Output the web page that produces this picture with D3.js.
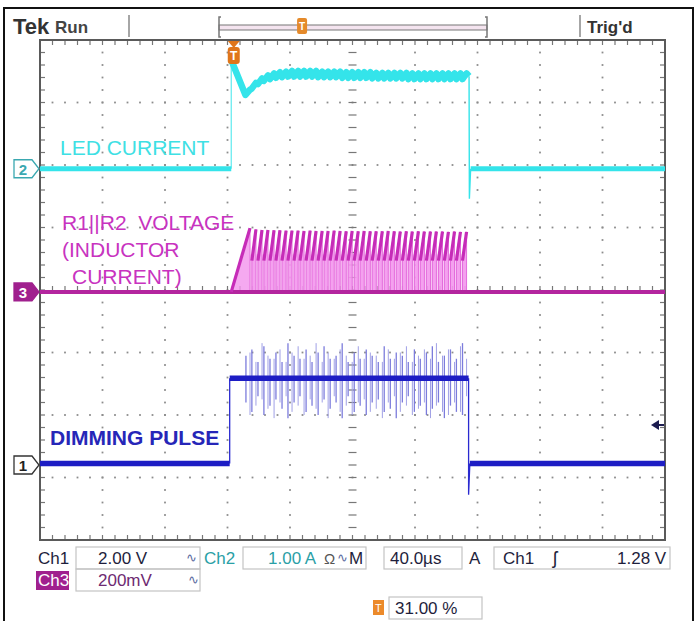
<!DOCTYPE html>
<html>
<head>
<meta charset="utf-8">
<script src="https://cdn.jsdelivr.net/npm/d3@7"></script>
<style>
  body { margin: 0; background: #fff; }
  svg { display: block; font-family: "Liberation Sans", Arial, sans-serif; }
  text { white-space: pre; }
</style>
</head>
<body>
<div id="scope"></div>
<script>
// time in µs relative to trigger (40 µs/div, trigger at 31 %), vertical in divisions
const timeSpan = [-124, 276];
const divSpan = [-4, 4];

// channel ground position (div) and units per division: Ch1 V, Ch2 A, Ch3 mV
const groundDiv = [-2.8, 1.94, -0.03];
const unitsPerDiv = [2, 1, 200];

// switching cycles: instants (µs) where the inductor current peaks
const switchPeaks = [10.4, 14.2, 18.1, 21.9, 25.8, 29.6, 33.5, 37.3, 41.2, 45.0,
  48.9, 52.7, 56.6, 60.4, 64.3, 68.1, 72.0, 75.8, 79.7, 83.5, 87.4, 91.2, 95.1,
  98.9, 102.8, 106.6, 110.5, 114.3, 118.2, 122.0, 125.9, 129.7, 133.6, 137.4,
  141.3, 145.1, 149.0];
const onTime = 2.6;

// Ch3: R1||R2 voltage (mV)
const ch3PeakMv = [204, 200, 198, 198, 197, 197, 196, 196, 196, 195, 196, 195,
  195, 195, 196, 195, 194, 195, 194, 195, 194, 194, 194, 195, 194, 193, 194, 193,
  194, 193, 193, 193, 193, 192, 193, 192, 192];
const ch3ValleyMv = 100;
const ch3RampStart = -1.6;

// Ch2: LED current (A)
const ledMeanA = [1.22, 1.33, 1.40, 1.45, 1.48, 1.50, 1.51, 1.52, 1.52, 1.52,
  1.52, 1.52, 1.51, 1.51, 1.51, 1.51, 1.50, 1.50, 1.50, 1.50, 1.50, 1.49, 1.49,
  1.49, 1.49, 1.49, 1.49, 1.48, 1.48, 1.48, 1.48, 1.48, 1.48, 1.48, 1.48, 1.48, 1.48];
const ledRippleA = 0.045;
const ledLeadT = [-1.6, 7.5];
const ledLeadA = [1.74, 1.18];
const ledTailT = [150.6, 150.8, 151.6];
const ledTailA = [1.48, -0.48, 0];

// Ch1: dimming pulse (V)
const dimEdgesT = [-2.6, 150.3];
const dimLevelsV = [0.05, 2.78];
const dimUndershootV = -0.95;
const dimSpikeTopV = [3.5, 3.7, 3.3, 3.8, 3.4, 3.6, 3.3, 3.9, 3.5, 3.4, 3.7, 3.3,
  3.6, 3.8, 3.4, 3.5, 3.9, 3.3, 3.6, 3.4, 3.7, 3.5, 3.3, 3.8, 3.4, 3.6, 3.5, 3.3,
  3.7, 3.4, 3.6, 3.8, 3.3, 3.5, 3.7, 3.4, 3.9];
const dimSpikeBotV = [2.0, 1.7, 2.2, 1.6, 1.9, 2.1, 1.8, 1.5, 2.0, 2.2, 1.7, 1.9,
  1.6, 2.1, 1.8, 2.0, 1.5, 2.2, 1.7, 1.9, 1.6, 2.0, 2.1, 1.7, 1.8, 1.5, 2.0, 2.2,
  1.7, 1.9, 1.6, 1.8, 2.0, 1.5, 1.9, 1.7, 1.6];
const trigLevelV = 1.28;
const trigPercent = 31;

const width = 695;
const height = 621;
const plot = { left: 40, right: 665, top: 40, bottom: 540 };

const svg = d3
  .select("#scope")
  .append("svg")
  .attr("width", width)
  .attr("height", height);

const x = d3.scaleLinear().domain(timeSpan).range([plot.left, plot.right]);
const y = d3.scaleLinear().domain(divSpan).range([plot.bottom, plot.top]);
const onCh = (ch) => (v) => y(groundDiv[ch] + v / unitsPerDiv[ch]);
const y1 = onCh(0);
const y2 = onCh(1);
const y3 = onCh(2);

// outer frame
svg.append("rect")
  .attr("x", 4).attr("y", 8).attr("width", 689).attr("height", 620)
  .attr("fill", "none").attr("stroke", "#111").attr("stroke-width", 2);

// graticule
const majorT = d3.range(0, 11).map((k) => timeSpan[0] + k * 40);
const majorD = d3.range(-4, 5);
const minorT = d3.range(1, 50).map((i) => timeSpan[0] + i * 8);
const minorD = d3.range(1, 40).map((i) => -4 + i * 0.2);
const centerT = timeSpan[0] + 200;

const grid = svg.append("g").attr("fill", "#8c8c8c");
majorT.slice(1, -1).filter((t) => t !== centerT).forEach((t) => {
  grid.selectAll(null).data(minorD).join("rect")
    .attr("x", x(t) - 0.9).attr("y", (d) => y(d) - 0.9)
    .attr("width", 1.8).attr("height", 1.8);
});
majorD.slice(1, -1).filter((d) => d !== 0).forEach((dv) => {
  grid.selectAll(null).data(minorT).join("rect")
    .attr("x", (t) => x(t) - 0.9).attr("y", y(dv) - 0.9)
    .attr("width", 1.8).attr("height", 1.8);
});

const ticks = svg.append("g").attr("stroke", "#777").attr("stroke-width", 1.2);
ticks.selectAll(null).data(minorD).join("line")
  .attr("x1", x(centerT) - 4).attr("x2", x(centerT) + 4)
  .attr("y1", (d) => y(d)).attr("y2", (d) => y(d));
ticks.selectAll(null).data(minorT).join("line")
  .attr("x1", (t) => x(t)).attr("x2", (t) => x(t))
  .attr("y1", y(0) - 4).attr("y2", y(0) + 4);
// border ticks
ticks.selectAll(null).data(minorT).join("line")
  .attr("x1", (t) => x(t)).attr("x2", (t) => x(t))
  .attr("y1", plot.top).attr("y2", plot.top + 5);
ticks.selectAll(null).data(minorT).join("line")
  .attr("x1", (t) => x(t)).attr("x2", (t) => x(t))
  .attr("y1", plot.bottom).attr("y2", plot.bottom - 5);
ticks.selectAll(null).data(minorD).join("line")
  .attr("x1", plot.left).attr("x2", plot.left + 5)
  .attr("y1", (d) => y(d)).attr("y2", (d) => y(d));
ticks.selectAll(null).data(minorD).join("line")
  .attr("x1", plot.right).attr("x2", plot.right - 5)
  .attr("y1", (d) => y(d)).attr("y2", (d) => y(d));

svg.append("rect")
  .attr("x", plot.left).attr("y", plot.top)
  .attr("width", plot.right - plot.left).attr("height", plot.bottom - plot.top)
  .attr("fill", "none").attr("stroke", "#5a5a5a").attr("stroke-width", 2);

const line = (fy) => d3.line().x((d) => x(d.t)).y((d) => fy(d.v));

// ---- Ch3: R1||R2 voltage (inductor current)
const teeth = switchPeaks.map((t, i) => ({
  start: i === 0 ? ch3RampStart : t - onTime,
  from: i === 0 ? ch3RampStart : switchPeaks[i - 1],
  low: i === 0 ? 0 : ch3ValleyMv,
  peak: t,
  high: ch3PeakMv[i]
}));
const ch3 = svg.append("g");
// persistence haze between cycles
ch3.selectAll("path.haze").data(teeth.slice(1)).join("path")
  .attr("class", "haze")
  .attr("fill", "#f7b8f2").attr("fill-opacity", 0.6)
  .attr("d", (d) => line(y3)([
    { t: d.from, v: 0 }, { t: d.from, v: d.low * 1.2 },
    { t: d.peak, v: d.low * 1.2 }, { t: d.peak, v: 0 }]));
ch3.selectAll("path.fill").data(teeth).join("path")
  .attr("class", "fill")
  .attr("fill", "#f394ec").attr("fill-opacity", 0.8)
  .attr("stroke", "#e46cdc").attr("stroke-width", 1)
  .attr("d", (d) => line(y3)([
    { t: d.start, v: 0 }, { t: d.start, v: d.low },
    { t: d.peak, v: d.high }, { t: d.peak, v: 0 }]));
ch3.append("path")
  .attr("fill", "none").attr("stroke", "#b4259f").attr("stroke-width", 4)
  .attr("d", line(y3)([{ t: timeSpan[0], v: 0 }, { t: timeSpan[1], v: 0 }]));
ch3.selectAll("path.ramp").data(teeth).join("path")
  .attr("class", "ramp")
  .attr("fill", "none").attr("stroke", "#c62cb8").attr("stroke-width", 3.2)
  .attr("d", (d) => line(y3)([{ t: d.start, v: d.low }, { t: d.peak, v: d.high }]));

// ---- Ch2: LED current
const ledHigh = ledLeadT.map((t, i) => ({ t, v: ledLeadA[i] }));
switchPeaks.forEach((t, i) => {
  if (i > 0) ledHigh.push({ t: t - onTime, v: ledMeanA[i] - ledRippleA });
  ledHigh.push({ t, v: ledMeanA[i] + ledRippleA });
});
ledHigh.push({ t: ledTailT[0], v: ledTailA[0] });
const ch2 = svg.append("g").attr("fill", "none").attr("stroke", "#34e4ea");
ch2.append("path").attr("stroke-width", 1.2).attr("stroke-opacity", 0.8)
  .attr("d", line(y2)([{ t: ledLeadT[0], v: 0 }, { t: ledLeadT[0], v: ledLeadA[0] }]));
ch2.append("path").attr("stroke-width", 1.4)
  .attr("d", line(y2)(ledTailT.map((t, i) => ({ t, v: ledTailA[i] }))));
ch2.append("path").attr("stroke-width", 5)
  .attr("d", line(y2)([{ t: timeSpan[0], v: 0 }, { t: ledLeadT[0], v: 0 }]));
ch2.append("path").attr("stroke-width", 6.5).attr("stroke-linejoin", "round")
  .attr("d", line(y2)(ledHigh));
ch2.append("path").attr("stroke-width", 5)
  .attr("d", line(y2)([{ t: ledTailT[2], v: 0 }, { t: timeSpan[1], v: 0 }]));

// ---- Ch1: dimming pulse
const ch1 = svg.append("g").attr("fill", "none");
ch1.selectAll("line.spike").data(switchPeaks).join("line")
  .attr("class", "spike")
  .attr("stroke", "#7c7cdc").attr("stroke-width", 1.3)
  .attr("x1", (t) => x(t - onTime)).attr("x2", (t) => x(t - onTime))
  .attr("y1", (t, i) => y1(dimSpikeTopV[i])).attr("y2", (t, i) => y1(dimSpikeBotV[i]));
ch1.selectAll("line.spike2").data(switchPeaks).join("line")
  .attr("class", "spike2")
  .attr("stroke", "#a0a0e6").attr("stroke-width", 1)
  .attr("x1", (t) => x(t)).attr("x2", (t) => x(t))
  .attr("y1", (t, i) => y1(dimSpikeTopV[(i + 5) % dimSpikeTopV.length]))
  .attr("y2", (t, i) => y1(dimSpikeBotV[(i + 3) % dimSpikeBotV.length]));
ch1.append("path").attr("stroke", "#2a2ad0").attr("stroke-width", 1.3)
  .attr("d", line(y1)([{ t: dimEdgesT[0], v: dimLevelsV[0] }, { t: dimEdgesT[0], v: dimLevelsV[1] }]));
ch1.append("path").attr("stroke", "#2a2ad0").attr("stroke-width", 1.3)
  .attr("d", line(y1)([{ t: dimEdgesT[1], v: dimLevelsV[1] }, { t: dimEdgesT[1], v: dimUndershootV },
    { t: dimEdgesT[1] + 0.8, v: dimLevelsV[0] }]));
ch1.selectAll("path.level").data([
  [timeSpan[0], dimEdgesT[0], dimLevelsV[0]],
  [dimEdgesT[0], dimEdgesT[1], dimLevelsV[1]],
  [dimEdgesT[1] + 0.8, timeSpan[1], dimLevelsV[0]]]).join("path")
  .attr("class", "level")
  .attr("stroke", "#1d1dc4").attr("stroke-width", 5.5)
  .attr("d", (d) => line(y1)([{ t: d[0], v: d[2] }, { t: d[1], v: d[2] }]));

// ---- trace labels
svg.append("text").attr("x", 60).attr("y", 155).attr("font-size", 21)
  .attr("fill", "#3ee0e4").text("LED CURRENT");
const magLabel = svg.append("g").attr("font-size", 21).attr("fill", "#c833c0");
magLabel.append("text").attr("x", 62).attr("y", 230).text("R1||R2  VOLTAGE");
magLabel.append("text").attr("x", 62).attr("y", 257).text("(INDUCTOR");
magLabel.append("text").attr("x", 72).attr("y", 284).text("CURRENT)");
svg.append("text").attr("x", 50).attr("y", 445).attr("font-size", 21)
  .attr("font-weight", "bold").attr("fill", "#2626b8").text("DIMMING PULSE");

// ---- channel ground markers
const markers = [
  { ch: 1, label: "2", fill: "#fff", stroke: "#3aa8b0", text: "#3aa8b0" },
  { ch: 2, label: "3", fill: "#a0208e", stroke: "#a0208e", text: "#fff" },
  { ch: 0, label: "1", fill: "#fff", stroke: "#333", text: "#222" }
];
const mk = svg.selectAll("g.marker").data(markers).join("g").attr("class", "marker")
  .attr("transform", (d) => `translate(0,${y(groundDiv[d.ch])})`);
mk.append("path")
  .attr("d", "M14,-9H32L39,0L32,9H14Z")
  .attr("fill", (d) => d.fill).attr("stroke", (d) => d.stroke).attr("stroke-width", 1.3);
mk.append("text").attr("x", 23).attr("y", 6).attr("text-anchor", "middle")
  .attr("font-size", 15).attr("font-weight", "bold")
  .attr("fill", (d) => d.text).text((d) => d.label);

// trigger position marker
const tx = x(0);
svg.append("path").attr("d", `M${tx - 6},${plot.top + 1}H${tx + 6}L${tx},${plot.top + 8}Z`)
  .attr("fill", "#e0761a");
svg.append("rect").attr("x", tx - 6).attr("y", plot.top + 7).attr("width", 12).attr("height", 17)
  .attr("rx", 3).attr("fill", "#e0761a");
svg.append("text").attr("x", tx).attr("y", plot.top + 20).attr("text-anchor", "middle")
  .attr("font-size", 12).attr("font-weight", "bold").attr("fill", "#fff").text("T");

// trigger level arrow
const ty = y1(trigLevelV);
svg.append("path").attr("d", `M651,${ty}L659,${ty - 5}V${ty + 5}Z`).attr("fill", "#1c1c50");
svg.append("line").attr("x1", 657).attr("x2", 664).attr("y1", ty).attr("y2", ty)
  .attr("stroke", "#1c1c50").attr("stroke-width", 2);

// ---- header
svg.append("text").attr("x", 13).attr("y", 34).attr("font-size", 22)
  .attr("font-weight", "bold").attr("fill", "#333").text("Tek");
svg.append("text").attr("x", 55).attr("y", 33).attr("font-size", 17)
  .attr("font-weight", "bold").attr("fill", "#444").text("Run");
svg.append("line").attr("x1", 129).attr("x2", 129).attr("y1", 15).attr("y2", 37)
  .attr("stroke", "#888").attr("stroke-width", 1.5);
svg.append("rect").attr("x", 219).attr("y", 25).attr("width", 268).attr("height", 5)
  .attr("fill", "#f4e4ef").attr("stroke", "#777").attr("stroke-width", 1);
svg.append("path").attr("d", "M221,17H219V37H221M485,17H487V37H485")
  .attr("fill", "none").attr("stroke", "#777").attr("stroke-width", 1.5);
const rx = 219 + 268 * trigPercent / 100;
svg.append("rect").attr("x", rx - 5).attr("y", 18).attr("width", 10).attr("height", 16)
  .attr("rx", 2).attr("fill", "#e58a2a");
svg.append("text").attr("x", rx).attr("y", 30).attr("text-anchor", "middle")
  .attr("font-size", 10).attr("font-weight", "bold").attr("fill", "#fff").text("T");
svg.append("line").attr("x1", 580).attr("x2", 580).attr("y1", 15).attr("y2", 37)
  .attr("stroke", "#888").attr("stroke-width", 1.5);
svg.append("text").attr("x", 587).attr("y", 33).attr("font-size", 17)
  .attr("font-weight", "bold").attr("fill", "#333").text("Trig'd");

// ---- readouts
const boxes = [[76, 547, 124, 22], [243, 547, 123, 22], [384, 547, 78, 22],
  [494, 547, 176, 22], [76, 569, 124, 22], [389, 597, 93, 22]];
svg.selectAll("rect.box").data(boxes).join("rect").attr("class", "box")
  .attr("x", (d) => d[0]).attr("y", (d) => d[1]).attr("width", (d) => d[2]).attr("height", (d) => d[3])
  .attr("fill", "none").attr("stroke", "#c4c4c4").attr("stroke-width", 1.2);
svg.append("rect").attr("x", 36).attr("y", 571).attr("width", 33).attr("height", 19)
  .attr("fill", "#a0208e");
svg.append("rect").attr("x", 373).attr("y", 600).attr("width", 11).attr("height", 15)
  .attr("fill", "#ec8a2a");

const readouts = [
  [38, 564, "Ch1", "#1e1e3c", 17], [98, 564, "2.00 V", "#1e1e3c", 17],
  [186, 562, "∿", "#5a6aa0", 13], [204, 564, "Ch2", "#2aa0a6", 17],
  [268, 564, "1.00 A", "#2aa0a6", 17], [324, 564, "Ω", "#555", 15],
  [337, 562, "∿", "#5a6aa0", 13], [349, 564, "M", "#1e1e3c", 17],
  [390, 564, "40.0µs", "#1e1e3c", 17], [469, 564, "A", "#1e1e3c", 17],
  [503, 564, "Ch1", "#1e1e3c", 17], [553, 564, "ʃ", "#1e1e3c", 18],
  [617, 564, "1.28 V", "#1e1e3c", 17],
  [38, 586, "Ch3", "#fff", 17], [98, 586, "200mV", "#6e2a72", 17],
  [188, 584, "∿", "#5a6aa0", 13],
  [375, 612, "T", "#fff", 11], [395, 614, "31.00 %", "#1e1e3c", 17]
];
svg.selectAll("text.readout").data(readouts).join("text").attr("class", "readout")
  .attr("x", (d) => d[0]).attr("y", (d) => d[1]).attr("fill", (d) => d[3])
  .attr("font-size", (d) => d[4]).text((d) => d[2]);
</script>
</body>
</html>
